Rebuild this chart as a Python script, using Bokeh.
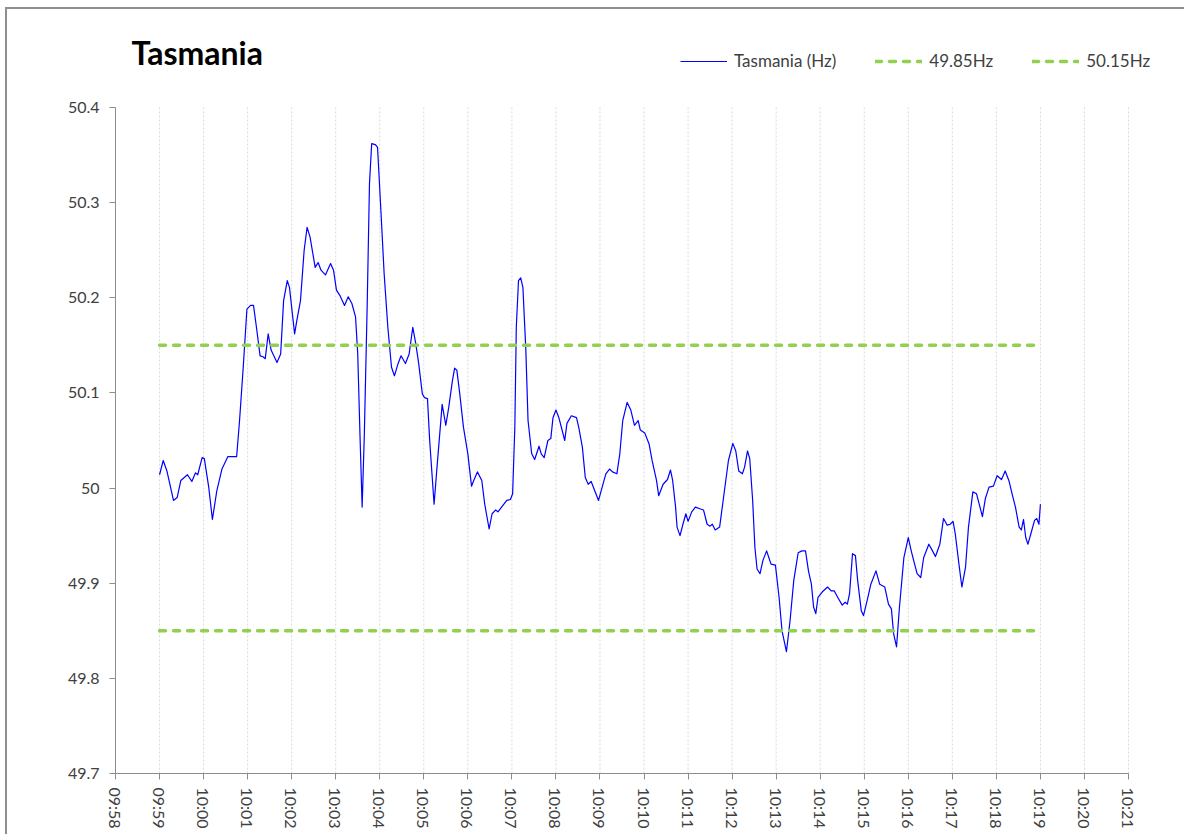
import pandas as pd
from bokeh.plotting import figure
from bokeh.models import (Range1d, FixedTicker, DatetimeTickFormatter, Legend,
                          LegendItem, Label)
from bokeh.embed import file_html
from bokeh.resources import INLINE

# ---------------- data ----------------
title_text = "Tasmania"
series_name = "Tasmania (Hz)"
low_name = "49.85Hz"
high_name = "50.15Hz"

start_time = "09:59:00"          # t_sec is measured from this time
t_sec = [0, 5, 10, 19, 24, 29, 38, 44, 49, 52, 58, 61, 67, 72, 78, 85, 93, 105,
         109, 114, 119, 124, 128, 132, 137, 141, 144, 148, 152, 160, 165, 169,
         174, 177, 184, 187, 192, 197, 201, 205, 212, 216, 220, 226, 233, 237,
         241, 246, 252, 257, 262, 267, 270, 273, 276, 279, 283, 286, 289, 294,
         297, 302, 306, 311, 316, 320, 325, 329, 335, 340, 345, 349, 353, 358,
         361, 365, 368, 374, 378, 385, 390, 394, 399, 402, 405, 409, 414, 420,
         425, 428, 433, 439, 443, 449, 453, 458, 461, 467, 473, 478, 481, 484,
         486, 489, 492, 495, 499, 502, 507, 511, 517, 520, 524, 529, 533, 536,
         540, 544, 552, 555, 561, 568, 571, 576, 580, 584, 588, 593, 598, 603,
         608, 613, 617, 623, 627, 631, 637, 642, 647, 652, 655, 661, 667, 671,
         677, 680, 686, 692, 696, 699, 703, 705, 709, 713, 717, 720, 725, 730,
         737, 741, 746, 750, 753, 757, 763, 769, 775, 781, 785, 789, 794, 797,
         801, 804, 808, 811, 814, 818, 822, 827, 830, 833, 839, 844, 848, 854,
         859, 864, 870, 875, 880, 884, 888, 891, 894, 897, 903, 910, 915, 919,
         924, 930, 934, 937, 940, 944, 948, 951, 956, 959, 964, 969, 976, 981,
         988, 993, 997, 1000, 1004, 1008, 1014, 1020, 1024, 1028, 1032, 1037,
         1041, 1048, 1053, 1057, 1063, 1068, 1073, 1077, 1081, 1084, 1089, 1093,
         1098, 1102, 1108, 1113, 1116, 1121, 1125, 1130, 1136, 1141, 1147, 1152,
         1157, 1162, 1166, 1171, 1174, 1177, 1180, 1183, 1187, 1192, 1195, 1198,
         1200]
hz = [50.014, 50.029, 50.018, 49.987, 49.990, 50.008, 50.014, 50.007, 50.016,
      50.014, 50.032, 50.031, 50.001, 49.967, 49.997, 50.020, 50.033, 50.033,
      50.071, 50.127, 50.188, 50.192, 50.192, 50.169, 50.139, 50.138, 50.136,
      50.162, 50.145, 50.132, 50.141, 50.197, 50.218, 50.211, 50.162, 50.176,
      50.197, 50.250, 50.274, 50.264, 50.232, 50.237, 50.229, 50.224, 50.236,
      50.229, 50.208, 50.202, 50.192, 50.201, 50.194, 50.180, 50.141, 50.057,
      49.980, 50.057, 50.197, 50.320, 50.362, 50.361, 50.358, 50.285, 50.225,
      50.169, 50.127, 50.118, 50.131, 50.139, 50.131, 50.141, 50.169, 50.152,
      50.131, 50.099, 50.095, 50.094, 50.050, 49.983, 50.022, 50.088, 50.066,
      50.085, 50.113, 50.126, 50.124, 50.099, 50.064, 50.036, 50.002, 50.008,
      50.017, 50.008, 49.983, 49.957, 49.973, 49.977, 49.975, 49.981, 49.987,
      49.988, 49.994, 50.064, 50.169, 50.218, 50.221, 50.211, 50.145, 50.071,
      50.036, 50.030, 50.044, 50.036, 50.032, 50.050, 50.052, 50.074, 50.082,
      50.074, 50.050, 50.068, 50.076, 50.074, 50.064, 50.043, 50.011, 50.004,
      50.007, 49.997, 49.987, 50.001, 50.015, 50.020, 50.017, 50.015, 50.036,
      50.071, 50.090, 50.082, 50.066, 50.071, 50.061, 50.058, 50.046, 50.029,
      50.008, 49.992, 50.004, 50.009, 50.019, 50.008, 49.980, 49.959, 49.950,
      49.962, 49.973, 49.965, 49.975, 49.980, 49.978, 49.977, 49.962, 49.960,
      49.962, 49.956, 49.959, 49.994, 50.029, 50.047, 50.039, 50.018, 50.015,
      50.022, 50.039, 50.031, 49.987, 49.938, 49.915, 49.910, 49.924, 49.934,
      49.927, 49.920, 49.919, 49.885, 49.850, 49.828, 49.861, 49.903, 49.932,
      49.934, 49.934, 49.913, 49.899, 49.875, 49.868, 49.885, 49.891, 49.896,
      49.892, 49.892, 49.885, 49.877, 49.880, 49.878, 49.889, 49.931, 49.929,
      49.903, 49.871, 49.866, 49.882, 49.899, 49.913, 49.899, 49.896, 49.878,
      49.873, 49.847, 49.833, 49.875, 49.927, 49.948, 49.934, 49.922, 49.910,
      49.906, 49.927, 49.941, 49.934, 49.928, 49.941, 49.968, 49.961, 49.962,
      49.965, 49.952, 49.920, 49.896, 49.917, 49.959, 49.996, 49.994, 49.985,
      49.970, 49.989, 50.001, 50.002, 50.013, 50.009, 50.018, 50.008, 49.992,
      49.980, 49.959, 49.956, 49.967, 49.948, 49.941, 49.952, 49.966, 49.968,
      49.962, 49.983]

limit_t_sec = [0, 1200]
low_limit = [49.85, 49.85]
high_limit = [50.15, 50.15]

x_tick_labels = ["09:58", "09:59", "10:00", "10:01", "10:02", "10:03", "10:04",
                 "10:05", "10:06", "10:07", "10:08", "10:09", "10:10", "10:11",
                 "10:12", "10:13", "10:14", "10:15", "10:16", "10:17", "10:18",
                 "10:19", "10:20", "10:21"]
y_ticks = [49.7, 49.8, 49.9, 50.0, 50.1, 50.2, 50.3, 50.4]
y_tick_labels = ["49.7", "49.8", "49.9", "50", "50.1", "50.2", "50.3", "50.4"]

# ---------------- helpers ----------------
DAY = "2024-01-01 "
EPOCH = pd.Timestamp("1970-01-01")


def to_ms(ts):
    return (ts - EPOCH) / pd.Timedelta(milliseconds=1)


base_ms = to_ms(pd.Timestamp(DAY + start_time))
x_line = [base_ms + s * 1000.0 for s in t_sec]
x_limit = [base_ms + s * 1000.0 for s in limit_t_sec]
x_ticks = [to_ms(pd.Timestamp(DAY + lbl)) for lbl in x_tick_labels]

FONT = "Lato"
AXIS_COL = "#8c8c8c"
TEXT_COL = "#404040"
GREEN = "#92d050"

# ---------------- layout (page pixels) ----------------
FIG_X, FIG_Y = 7, 9              # figure offset on the page (margins)
AXIS_L, AXIS_R = 115, 1128       # where the first / last time ticks sit
AXIS_TOP, AXIS_BOT = 107, 773    # where the top / bottom value ticks sit
FRAME_TOP = 20                   # frame extended up so title/legend fit in it
FRAME_R = 1172                   # frame extended right so the legend fits
FIG_W, FIG_H = 1177, 825

py_per_unit = (AXIS_BOT - AXIS_TOP) / (y_ticks[-1] - y_ticks[0])
y_top = y_ticks[-1] + (AXIS_TOP - FRAME_TOP) / py_per_unit
px_per_ms = (AXIS_R - AXIS_L) / (x_ticks[-1] - x_ticks[0])
x_right = x_ticks[-1] + (FRAME_R - AXIS_R) / px_per_ms

p = figure(width=FIG_W, height=FIG_H, x_axis_type="datetime",
           output_backend="svg", toolbar_location=None,
           x_range=Range1d(x_ticks[0], x_right),
           y_range=Range1d(y_ticks[0], y_top),
           min_border_left=AXIS_L - FIG_X,
           min_border_right=FIG_X + FIG_W - FRAME_R,
           min_border_top=FRAME_TOP - FIG_Y,
           min_border_bottom=FIG_Y + FIG_H - AXIS_BOT)
p.background_fill_color = "white"
p.border_fill_color = "white"
p.outline_line_color = None
p.styles = {"margin-left": f"{FIG_X}px", "margin-top": f"{FIG_Y}px",
            "outline": "2px solid #8f8f8f"}
p.title.visible = False

# vertical dotted grid lines, one per minute tick, spanning the value axis
p.segment(x0=x_ticks, y0=[y_ticks[0]] * len(x_ticks),
          x1=x_ticks, y1=[y_ticks[-1]] * len(x_ticks),
          line_color="#d9d9d9", line_width=1, line_dash="2 2")

# lines
r_line = p.line(x_line, hz, line_color="#0000ff", line_width=1.2,
                line_join="round")
r_low = p.line(x_limit, low_limit, line_color=GREEN, line_width=3.5,
               line_dash="6 8", line_cap="round")
r_high = p.line(x_limit, high_limit, line_color=GREEN, line_width=3.5,
                line_dash="6 8", line_cap="round")

# axes
p.xaxis.ticker = FixedTicker(ticks=x_ticks)
p.xaxis.bounds = (x_ticks[0], x_ticks[-1])
p.xaxis.formatter = DatetimeTickFormatter(
    milliseconds="%H:%M", seconds="%H:%M", minsec="%H:%M", minutes="%H:%M",
    hourmin="%H:%M", hours="%H:%M", days="%H:%M", months="%H:%M",
    years="%H:%M")
p.xaxis.major_label_orientation = "vertical"
p.yaxis.ticker = FixedTicker(ticks=y_ticks)
p.yaxis.bounds = (y_ticks[0], y_ticks[-1])
p.yaxis.major_label_overrides = {t: l for t, l in zip(y_ticks, y_tick_labels)}

for ax in (p.xaxis, p.yaxis):
    ax.axis_line_color = AXIS_COL
    ax.axis_line_width = 1
    ax.major_tick_line_color = AXIS_COL
    ax.major_tick_in = 0
    ax.major_tick_out = 6
    ax.minor_tick_line_color = None
    ax.major_label_text_font = FONT
    ax.major_label_text_font_size = "16px"
    ax.major_label_text_color = TEXT_COL
p.yaxis.major_label_standoff = 10
p.xaxis.major_label_standoff = 8

p.xgrid.grid_line_color = None
p.ygrid.grid_line_color = None

# title (inside the extended frame, screen units relative to the frame)
p.add_layout(Label(x=131 - AXIS_L, y=AXIS_BOT - 52, x_units="screen",
                   y_units="screen", text=title_text, text_font=FONT,
                   text_font_size="32px", text_font_style="bold",
                   text_color="black", text_baseline="alphabetic"))

# legend
legend = Legend(items=[LegendItem(label=series_name, renderers=[r_line]),
                       LegendItem(label=low_name, renderers=[r_low]),
                       LegendItem(label=high_name, renderers=[r_high])],
                orientation="horizontal",
                location=(680 - AXIS_L, AXIS_BOT - 71),
                padding=0, margin=0, spacing=39, glyph_width=47,
                glyph_height=20, label_height=20, label_standoff=7,
                label_text_font=FONT, label_text_font_size="17px",
                label_text_color=TEXT_COL, background_fill_alpha=0,
                border_line_alpha=0)
p.add_layout(legend)

open("out.html", "w").write(file_html(p, INLINE))
